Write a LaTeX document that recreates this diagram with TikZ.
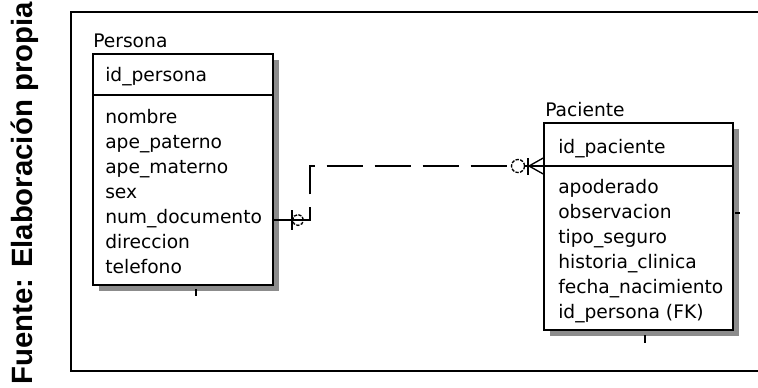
\documentclass[tikz,border=0pt]{standalone}
\usepackage{fontspec}
\setmainfont{Liberation Sans}
\newfontfamily\erfont{DejaVu Sans}
\usetikzlibrary{positioning, shadows}

\tikzset{
  entity/.style={draw, fill=white, line width=1.1pt, inner sep=0pt,
    drop shadow={shadow xshift=4.5pt, shadow yshift=-4.5pt,
      fill=black!45, opacity=1}},
  field/.style={anchor=base west, inner sep=0pt,
    font=\erfont\fontsize{14}{17}\selectfont},
  rel/.style={line width=1.4pt},
  ring/.style={line width=1pt, dash pattern=on 2.5pt off 1pt},
}

\begin{document}
\begin{tikzpicture}[x=0.75pt, y=-0.75pt]
    \useasboundingbox (0,0) rectangle (758,387);

    % frame
    \draw[line width=1.5pt] (762,12) -- (71,12) -- (71,371) -- (762,371);

    \node[rotate=90, anchor=base west, inner sep=0pt,
        font=\bfseries\fontsize{22}{24}\selectfont] (source) at (32,385)
        {Fuente: Elaboración propia};

    % Persona
    \node[entity, minimum width=135pt, minimum height=173.25pt]
        (persona) at (183,169.5) {};
    \draw[line width=1.1pt] (persona.west |- 0,95) -- (persona.east |- 0,95);
    \node[field] (per-title) at (93,47) {Persona};
    \node[field] (per-key) at (105,81) {id\_persona};
    \foreach \f [count=\i] in {nombre, ape\_paterno, ape\_materno, sex,
        num\_documento, direccion, telefono}
        \node[field] (per-\i) at (105,98+25*\i) {\f};
    \draw[line width=1pt] (196,289) -- (196,296);

    % Paciente
    \node[entity, minimum width=141.75pt, minimum height=155.25pt]
        (paciente) at (638.5,226.5) {};
    \draw[line width=1.1pt] (paciente.west |- 0,166) -- (paciente.east |- 0,166);
    \node[field] (pac-title) at (545,116) {Paciente};
    \node[field] (pac-key) at (558,153) {id\_paciente};
    \foreach \f [count=\i] in {apoderado, observacion, tipo\_seguro,
        historia\_clinica, fecha\_nacimiento, id\_persona (FK)}
        \node[field] (pac-\i) at (558,168+25*\i) {\f};
    \draw[line width=1pt] (645,335) -- (645,343);
    \draw[line width=1pt] (735,213) -- (740,213);

    % relationship
    \coordinate (rel-bend) at (310,220);
    \coordinate (rel-top) at (310,166);
    \coordinate (rel-end) at (507,166);
    \coordinate (per-end) at (persona.east |- rel-bend);
    \coordinate (pac-end) at (paciente.west |- rel-top);
    \draw[rel, dash pattern=on 36.75pt off 9.75pt on 24.75pt off 9pt
        on 27pt off 9pt on 27pt off 9pt on 27pt off 9pt on 27.75pt off 50pt]
        (per-end) -- (rel-bend) -- (rel-top) -- (rel-end);

    % zero or one at Persona
    \draw[rel] (292,210) -- (292,230);
    \draw[ring] (298,220) circle[radius=4.1pt];

    % zero or many at Paciente
    \draw[ring] (518,166) circle[radius=4.9pt];
    \draw[rel] (524.5,166) -- (pac-end);
    \draw[rel] (528,158) -- (528,175);
    \draw[line width=1pt] (529,166) -- (pac-end |- 0,158);
    \draw[line width=1pt] (529,166) -- (pac-end |- 0,174);
\end{tikzpicture}
\end{document}
